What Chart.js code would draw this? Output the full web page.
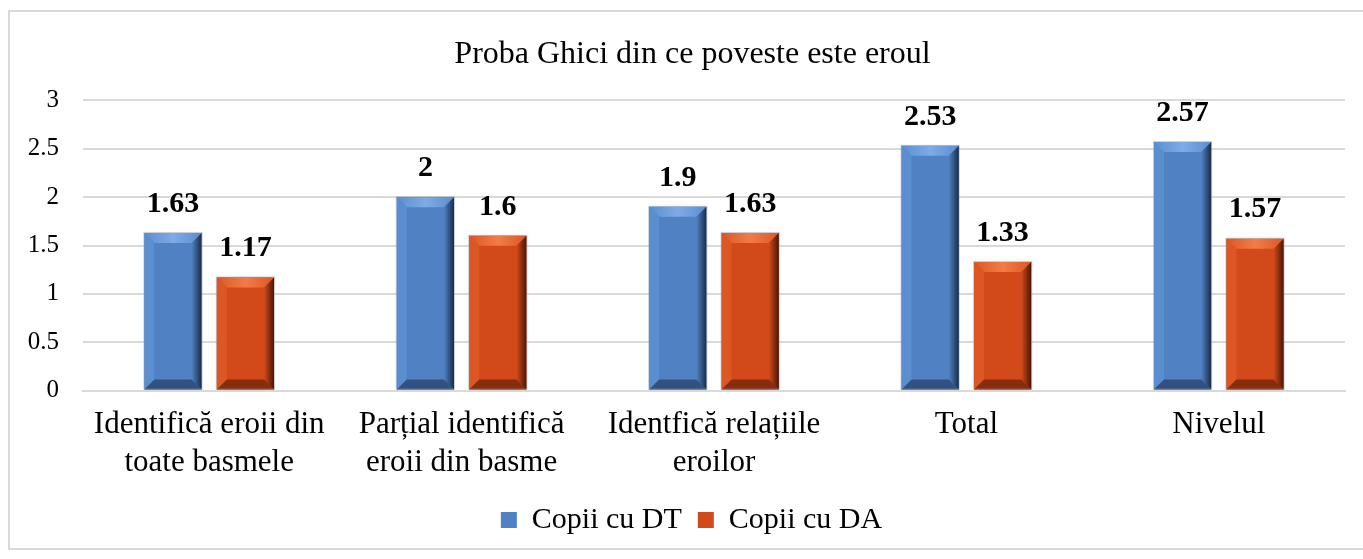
<!DOCTYPE html>
<html>
<head>
<meta charset="utf-8">
<script src="https://cdn.jsdelivr.net/npm/chart.js@4"></script>
<style>
    body { margin: 0; background: #fff; }
    #wrap {
        position: absolute; left: 8px; top: 10px;
        width: 1360px; height: 540px;
        border: 2px solid #d9d9d9; box-sizing: border-box;
    }
</style>
</head>
<body>
<div id="wrap"><canvas id="chart"></canvas></div>
<script>
// chart data
const categories = [
    ['Identifică eroii din', 'toate basmele'],
    ['Parțial identifică', 'eroii din basme'],
    ['Identfică relațiile', 'eroilor'],
    'Total',
    'Nivelul'
];
const seriesNames = ['Copii cu DT', 'Copii cu DA'];
const valuesDT = [1.63, 2, 1.9, 2.53, 2.57];
const valuesDA = [1.17, 1.6, 1.63, 1.33, 1.57];
const yTicks = [0, 0.5, 1, 1.5, 2, 2.5, 3];

const palette = [
    { face: '#4f81c3', light: '#7fabe6', mid: '#5a8ed0', dark: '#1a2c48' },
    { face: '#d24a1a', light: '#f27c48', mid: '#dc5724', dark: '#4a1606' }
];

const serif = "'Liberation Serif', 'Times New Roman', serif";

// title and legend sit centred on the whole box, not on the plot area
const centreShift = {
    id: 'centreShift',
    afterLayout(chart) {
        if (chart.titleBlock) {
            chart.titleBlock.left += 30;
        }
        if (chart.legend) {
            chart.legend.left += 14;
            chart.legend.right += 14;
        }
    }
};

// draws the bevelled look on top of each bar
const bevelPlugin = {
    id: 'bevel',
    afterDatasetsDraw(chart) {
        const ctx = chart.ctx;
        chart.data.datasets.forEach(function(ds, i) {
            const c = palette[i];
            chart.getDatasetMeta(i).data.forEach(function(bar) {
                const l = bar.x - bar.width / 2, r = bar.x + bar.width / 2;
                const t = bar.y, b = bar.base, s = 10;
                ctx.save();
                // face
                ctx.fillStyle = c.face;
                ctx.fillRect(l, t, r - l, b - t);
                // top
                const gt = ctx.createLinearGradient(l, 0, r, 0);
                gt.addColorStop(0, c.mid);
                gt.addColorStop(0.5, c.light);
                gt.addColorStop(1, c.mid);
                ctx.fillStyle = gt;
                ctx.beginPath();
                ctx.moveTo(l, t); ctx.lineTo(r, t); ctx.lineTo(r - s, t + s); ctx.lineTo(l + s, t + s);
                ctx.closePath(); ctx.fill();
                // left
                ctx.fillStyle = c.mid;
                ctx.beginPath();
                ctx.moveTo(l, t); ctx.lineTo(l + s, t + s); ctx.lineTo(l + s, b - s); ctx.lineTo(l, b);
                ctx.closePath(); ctx.fill();
                // right
                const gr = ctx.createLinearGradient(r - s, 0, r, 0);
                gr.addColorStop(0, c.face);
                gr.addColorStop(1, c.dark);
                ctx.fillStyle = gr;
                ctx.beginPath();
                ctx.moveTo(r, t); ctx.lineTo(r, b); ctx.lineTo(r - s, b - s); ctx.lineTo(r - s, t + s);
                ctx.closePath(); ctx.fill();
                // bottom
                ctx.fillStyle = c.dark;
                ctx.globalAlpha = 0.55;
                ctx.beginPath();
                ctx.moveTo(l, b); ctx.lineTo(r, b); ctx.lineTo(r - s, b - s); ctx.lineTo(l + s, b - s);
                ctx.closePath(); ctx.fill();
                // thin outline
                ctx.globalAlpha = 0.5;
                ctx.strokeStyle = '#9aa6b4';
                ctx.lineWidth = 1;
                ctx.strokeRect(l - 0.5, t - 0.5, r - l + 1, b - t);
                ctx.restore();
            });
        });
    }
};

// value labels above the bars
const valueLabels = {
    id: 'valueLabels',
    afterDatasetsDraw(chart) {
        const ctx = chart.ctx;
        ctx.save();
        ctx.font = 'bold 30px ' + serif;
        ctx.fillStyle = '#000';
        ctx.textAlign = 'center';
        ctx.textBaseline = 'bottom';
        chart.data.datasets.forEach(function(ds, i) {
            chart.getDatasetMeta(i).data.forEach(function(bar, j) {
                ctx.fillText(String(ds.data[j]), bar.x, bar.y - 14);
            });
        });
        ctx.restore();
    }
};

new Chart(document.getElementById('chart'), {
    type: 'bar',
    data: {
        labels: categories,
        datasets: [
            { label: seriesNames[0], data: valuesDT, backgroundColor: palette[0].face },
            { label: seriesNames[1], data: valuesDA, backgroundColor: palette[1].face }
        ]
    },
    options: {
        responsive: true,
        maintainAspectRatio: false,
        animation: false,
        categoryPercentage: 0.574,
        barPercentage: 0.79,
        layout: { padding: { left: 0, right: 21, top: 4, bottom: 3 } },
        plugins: {
            title: {
                display: true,
                text: 'Proba Ghici din ce poveste este eroul',
                color: '#000',
                font: { family: serif, size: 32, weight: 'normal', lineHeight: 1.2 },
                padding: { top: 19, bottom: 27 }
            },
            legend: {
                position: 'bottom',
                labels: {
                    color: '#000',
                    font: { family: serif, size: 30 },
                    boxWidth: 16,
                    boxHeight: 16,
                    padding: 16
                }
            },
            tooltip: { enabled: false }
        },
        scales: {
            x: {
                grid: { display: false },
                border: { color: '#d9d9d9', width: 2 },
                ticks: {
                    color: '#000',
                    font: { family: serif, size: 31, lineHeight: 1.2 },
                    maxRotation: 0,
                    autoSkip: false,
                    padding: 8
                }
            },
            y: {
                min: 0,
                max: 3,
                afterBuildTicks(axis) {
                    axis.ticks = yTicks.map(function(v) { return { value: v }; });
                },
                afterFit(axis) { axis.width = 73; },
                grid: { color: '#d9d9d9', lineWidth: 2, drawTicks: false },
                border: { display: false },
                ticks: {
                    color: '#000',
                    font: { family: serif, size: 25 },
                    padding: 24,
                    callback: function(v) { return String(v); }
                }
            }
        }
    },
    plugins: [centreShift, bevelPlugin, valueLabels]
});
</script>
</body>
</html>
